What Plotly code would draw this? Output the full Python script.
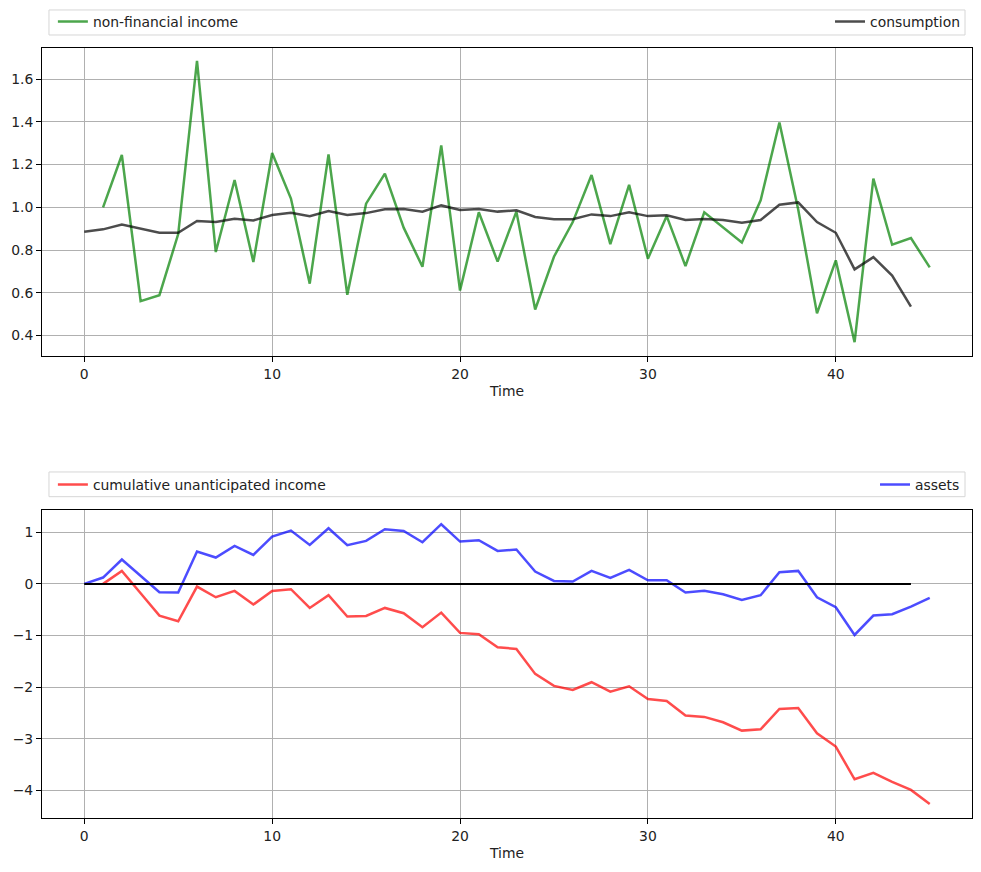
import plotly.graph_objects as go

# ---- data ----
time_income = list(range(1, 46))
non_financial_income = [1.00, 1.245, 0.561, 0.589, 0.875, 1.685, 0.791, 1.128, 0.744, 1.254,
                        1.041, 0.643, 1.248, 0.591, 1.017, 1.158, 0.905, 0.722, 1.290, 0.611,
                        0.977, 0.746, 0.980, 0.522, 0.769, 0.931, 1.151, 0.828, 1.105, 0.760,
                        0.959, 0.725, 0.977, 0.905, 0.836, 1.033, 1.397, 0.99, 0.504, 0.752,
                        0.369, 1.134, 0.825, 0.856, 0.719]

time_cons = list(range(0, 45))
consumption = [0.886, 0.897, 0.920, 0.902, 0.881, 0.881, 0.936, 0.931, 0.947, 0.939,
               0.964, 0.975, 0.958, 0.983, 0.964, 0.973, 0.991, 0.992, 0.980, 1.009,
               0.988, 0.992, 0.980, 0.986, 0.955, 0.944, 0.944, 0.967, 0.959, 0.977,
               0.959, 0.963, 0.941, 0.945, 0.941, 0.928, 0.941, 1.012, 1.023, 0.931,
               0.881, 0.710, 0.767, 0.681, 0.535]

time_cum = list(range(1, 46))
cumulative_unanticipated = [0.0, 0.252, -0.18, -0.613, -0.723, -0.052, -0.258, -0.135, -0.40, -0.135,
                            -0.103, -0.465, -0.219, -0.632, -0.619, -0.465, -0.568, -0.839, -0.555, -0.948,
                            -0.974, -1.226, -1.258, -1.742, -1.974, -2.052, -1.903, -2.084, -1.981, -2.226,
                            -2.265, -2.548, -2.574, -2.677, -2.839, -2.813, -2.419, -2.40, -2.89, -3.148,
                            -3.781, -3.658, -3.832, -3.987, -4.258]

time_assets = list(range(0, 46))
assets = [0.0, 0.123, 0.471, 0.155, -0.161, -0.168, 0.626, 0.51, 0.735, 0.561,
          0.916, 1.032, 0.755, 1.077, 0.748, 0.832, 1.058, 1.026, 0.806, 1.155,
          0.819, 0.845, 0.639, 0.665, 0.239, 0.058, 0.045, 0.252, 0.116, 0.271,
          0.071, 0.071, -0.168, -0.135, -0.20, -0.31, -0.219, 0.226, 0.252, -0.258,
          -0.452, -0.987, -0.613, -0.587, -0.439, -0.271]

time_zero = list(range(0, 45))
zero_line = [0, 0, 0, 0, 0, 0, 0, 0, 0, 0, 0, 0, 0, 0, 0, 0, 0, 0, 0, 0, 0, 0, 0,
             0, 0, 0, 0, 0, 0, 0, 0, 0, 0, 0, 0, 0, 0, 0, 0, 0, 0, 0, 0, 0, 0]

FONT = "DejaVu Sans"
FS = 13.9

fig = go.Figure()
fig.add_trace(go.Scatter(x=time_income, y=non_financial_income, mode="lines",
                         name="non-financial income", line=dict(color="rgba(0,128,0,0.7)", width=2.5),
                         xaxis="x", yaxis="y", legend="legend"))
fig.add_trace(go.Scatter(x=time_cons, y=consumption, mode="lines",
                         name="consumption", line=dict(color="rgba(0,0,0,0.7)", width=2.5),
                         xaxis="x", yaxis="y", legend="legend2"))
fig.add_trace(go.Scatter(x=time_cum, y=cumulative_unanticipated, mode="lines",
                         name="cumulative unanticipated income", line=dict(color="rgba(255,0,0,0.7)", width=2.5),
                         xaxis="x2", yaxis="y2", legend="legend3"))
fig.add_trace(go.Scatter(x=time_assets, y=assets, mode="lines",
                         name="assets", line=dict(color="rgba(0,0,255,0.7)", width=2.5),
                         xaxis="x2", yaxis="y2", legend="legend4"))
fig.add_trace(go.Scatter(x=time_zero, y=zero_line, mode="lines", showlegend=False,
                         line=dict(color="black", width=2), xaxis="x2", yaxis="y2"))

axis_common = dict(showline=True, mirror=True, linecolor="black", linewidth=1,
                   ticks="outside", ticklen=5, tickcolor="black", tickwidth=1,
                   showgrid=True, gridcolor="#b0b0b0", gridwidth=1, zeroline=False,
                   tickfont=dict(family=FONT, size=FS, color="#222"))

leg_common = dict(font=dict(family=FONT, size=FS, color="#222"), bgcolor="rgba(0,0,0,0)",
                  borderwidth=0, yanchor="middle", orientation="h")

fig.update_layout(
    width=981, height=872,
    margin=dict(l=42, r=9, t=48, b=54, autoexpand=False),
    paper_bgcolor="white", plot_bgcolor="white",
    xaxis=dict(domain=[0, 1], anchor="y", range=[-2.25, 47.25], dtick=10, tick0=0,
               title=dict(text="Time", font=dict(family=FONT, size=FS, color="#222"), standoff=5),
               **axis_common),
    yaxis=dict(domain=[0.6, 1], anchor="x", range=[0.3045, 1.7455], dtick=0.2, tick0=0,
               tickformat=".1f", **axis_common),
    xaxis2=dict(domain=[0, 1], anchor="y2", range=[-2.25, 47.25], dtick=10, tick0=0,
                title=dict(text="Time", font=dict(family=FONT, size=FS, color="#222"), standoff=5),
                **axis_common),
    yaxis2=dict(domain=[0, 0.4], anchor="x2", range=[-4.53, 1.43], dtick=1, tick0=0,
                **axis_common),
    legend=dict(x=0.0117, xanchor="left", y=1.0338, **leg_common),
    legend2=dict(x=0.9925, xanchor="right", y=1.0338, **leg_common),
    legend3=dict(x=0.0117, xanchor="left", y=0.4325, **leg_common),
    legend4=dict(x=0.9925, xanchor="right", y=0.4325, **leg_common),
    shapes=[
        dict(type="rect", xref="paper", yref="paper", x0=0.0075, x1=0.9925, y0=1.0169, y1=1.0494,
             line=dict(color="#d6d6d6", width=1), fillcolor="rgba(255,255,255,0.8)", layer="below"),
        dict(type="rect", xref="paper", yref="paper", x0=0.0075, x1=0.9925, y0=0.4173, y1=0.4494,
             line=dict(color="#d6d6d6", width=1), fillcolor="rgba(255,255,255,0.8)", layer="below"),
    ],
)

fig.write_html("out.html")
